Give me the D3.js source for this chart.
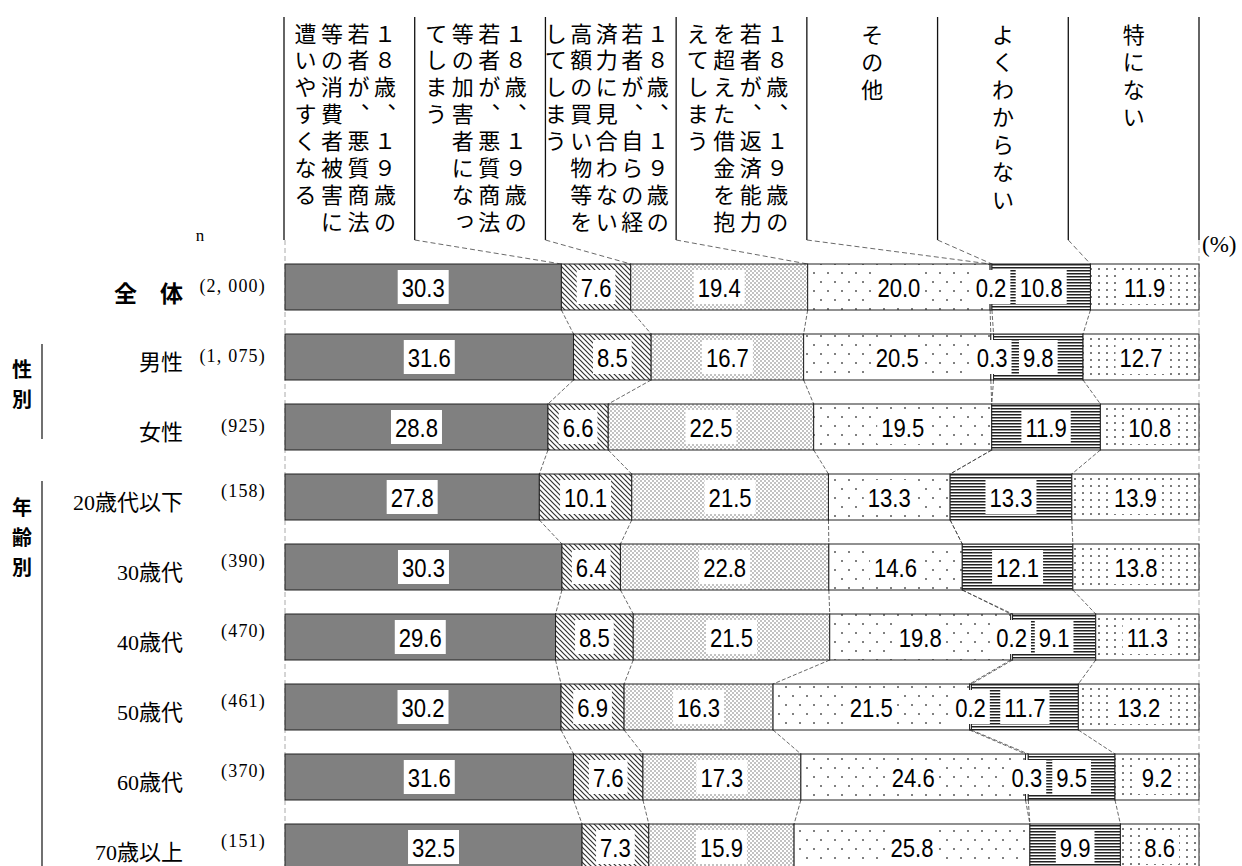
<!DOCTYPE html>
<html>
<head>
<meta charset="utf-8">
<script src="https://cdn.jsdelivr.net/npm/d3@7"></script>
<style>
  body { margin: 0; background: #fff; }
  svg { display: block; }
</style>
</head>
<body>
<div id="chart"></div>
<script>
const categories = [
  "１８歳、１９歳の若者が、悪質商法等の消費者被害に遭いやすくなる",
  "１８歳、１９歳の若者が、悪質商法等の加害者になってしまう",
  "１８歳、１９歳の若者が、自らの経済力に見合わない高額の買い物等をしてしまう",
  "１８歳、１９歳の若者が、返済能力を超えた借金を抱えてしまう",
  "その他",
  "よくわからない",
  "特にない"
];
const rows = ["全　体", "男性", "女性", "20歳代以下", "30歳代", "40歳代", "50歳代", "60歳代", "70歳以上"];
const nLabels = ["(2, 000)", "(1, 075)", "(925)", "(158)", "(390)", "(470)", "(461)", "(370)", "(151)"];

const s1 = [30.3, 31.6, 28.8, 27.8, 30.3, 29.6, 30.2, 31.6, 32.5];
const s2 = [7.6, 8.5, 6.6, 10.1, 6.4, 8.5, 6.9, 7.6, 7.3];
const s3 = [19.4, 16.7, 22.5, 21.5, 22.8, 21.5, 16.3, 17.3, 15.9];
const s4 = [20.0, 20.5, 19.5, 13.3, 14.6, 19.8, 21.5, 24.6, 25.8];
const s5 = [0.2, 0.3, 0, 0, 0, 0.2, 0.2, 0.3, 0];
const s6 = [10.8, 9.8, 11.9, 13.3, 12.1, 9.1, 11.7, 9.5, 9.9];
const s7 = [11.9, 12.7, 10.8, 13.9, 13.8, 11.3, 13.2, 9.2, 8.6];
const series = [s1, s2, s3, s4, s5, s6, s7];

const width = 1242, height = 866;
const svg = d3.select("#chart").append("svg")
  .attr("width", width).attr("height", height)
  .attr("viewBox", [0, 0, width, height]);

const jp = "'Noto Sans CJK JP', sans-serif";
const serif = "'Liberation Serif', 'Noto Sans CJK JP', serif";

// patterns
const defs = svg.append("defs");
function pat(id, w, h, draw) {
  const p = defs.append("pattern").attr("id", id)
    .attr("patternUnits", "userSpaceOnUse").attr("width", w).attr("height", h);
  p.append("rect").attr("width", w).attr("height", h).attr("fill", "#fff");
  draw(p);
}
pat("hatch", 5, 5, p => p.append("path")
  .attr("d", "M0,0L5,5M-1,4L1,6M4,-1L6,1")
  .attr("stroke", "#333").attr("stroke-width", 1.2));
pat("dense", 4, 4, p => {
  p.append("circle").attr("cx", 1).attr("cy", 1).attr("r", 0.75).attr("fill", "#666");
  p.append("circle").attr("cx", 3).attr("cy", 3).attr("r", 0.75).attr("fill", "#666");
});
pat("sparse", 14, 18, p => {
  p.append("circle").attr("cx", 2).attr("cy", 3).attr("r", 1).attr("fill", "#555");
  p.append("circle").attr("cx", 9).attr("cy", 12).attr("r", 1).attr("fill", "#555");
});
pat("hlines", 3, 3, p => p.append("rect")
  .attr("y", 0).attr("width", 3).attr("height", 1.5).attr("fill", "#222"));
pat("dots", 8, 7, p => p.append("circle")
  .attr("cx", 3).attr("cy", 3).attr("r", 0.95).attr("fill", "#444"));

const fills = ["#808080", "url(#hatch)", "url(#dense)", "url(#sparse)", "#fff", "url(#hlines)", "url(#dots)"];

// scales
const x0 = 285, x1 = 1199;
const y = d3.scaleBand().domain(rows).range([264, 870]).paddingInner(24 / 70);
const header = d3.scaleBand().domain(categories).range([284, 1199]);

const stacks = rows.map((r, i) => {
  const vals = series.map(s => s[i]);
  const total = d3.sum(vals);
  const x = d3.scaleLinear().domain([0, total]).range([x0, x1]);
  let c = 0;
  const cum = [0];
  vals.forEach(v => { c += v; cum.push(c); });
  return { row: r, vals, x, cum };
});

// header dividers
const divs = d3.range(8).map(k => k < 7 ? header(categories[k]) : header.range()[1]);
svg.append("g").selectAll("line").data(divs).join("line")
  .attr("x1", d => d).attr("x2", d => d)
  .attr("y1", 17).attr("y2", 240)
  .attr("stroke", "#111").attr("stroke-width", 1.3);

// header text
const htext = svg.append("g").attr("font-family", serif).attr("font-size", 22).attr("fill", "#000");
categories.forEach((cat, ci) => {
  const chunks = [];
  for (let i = 0; i < cat.length; i += 8) chunks.push(cat.slice(i, i + 8));
  const n = chunks.length;
  const pitchX = n === 5 ? 25.5 : 26.5;
  const pitchY = n > 1 ? 26.9 : 27.5;
  const cx = header(cat) + header.bandwidth() / 2 - (n > 1 ? 4 : 0);
  chunks.forEach((ch, j) => {
    const cxj = cx + ((n - 1) / 2 - j) * pitchX;
    Array.from(ch).forEach((c, k) => {
      let glyph = c, dx = 0, dy = 0;
      if (c === "、") glyph = "︑";
      if (c === "っ") { dx = 2; dy = -3; }
      htext.append("text")
        .attr("x", cxj + dx).attr("y", (n > 1 ? 34 : 35) + k * pitchY + dy)
        .attr("text-anchor", "middle").attr("dominant-baseline", "central")
        .text(glyph);
    });
  });
});

// connectors
const conn = svg.append("g").attr("fill", "none");
// outer vertical dashes
[x0, x1].forEach(xx => conn.append("line")
  .attr("x1", xx).attr("x2", xx).attr("y1", 240).attr("y2", height)
  .attr("stroke", "#aaa").attr("stroke-width", 1).attr("stroke-dasharray", "5,3"));
// header to first bar
d3.range(1, 7).forEach(k => conn.append("line")
  .attr("x1", divs[k]).attr("y1", 240)
  .attr("x2", stacks[0].x(stacks[0].cum[k])).attr("y2", y(rows[0]))
  .attr("stroke", "#444").attr("stroke-width", 0.8).attr("stroke-dasharray", "5,3"));
// between bars
stacks.slice(0, -1).forEach((st, i) => {
  const nx = stacks[i + 1];
  d3.range(1, 7).forEach(k => conn.append("line")
    .attr("x1", st.x(st.cum[k])).attr("y1", y(st.row) + y.bandwidth())
    .attr("x2", nx.x(nx.cum[k])).attr("y2", y(nx.row))
    .attr("stroke", "#444").attr("stroke-width", 0.8).attr("stroke-dasharray", "4,2"));
});

// bars
const bars = svg.append("g");
stacks.forEach(st => {
  const g = bars.append("g");
  st.vals.forEach((v, k) => {
    if (v <= 0) return;
    g.append("rect")
      .attr("x", st.x(st.cum[k])).attr("y", y(st.row))
      .attr("width", st.x(st.cum[k + 1]) - st.x(st.cum[k]))
      .attr("height", y.bandwidth())
      .attr("fill", fills[k]).attr("stroke", "#222").attr("stroke-width", 1);
  });
});

// value labels
const lab = svg.append("g");
stacks.forEach(st => {
  st.vals.forEach((v, k) => {
    if (v <= 0) return;
    const cx = (st.x(st.cum[k]) + st.x(st.cum[k + 1])) / 2;
    const cy = y(st.row) + y.bandwidth() / 2;
    const g = lab.append("g");
    const box = g.append("rect").attr("fill", "#fff");
    const t = g.append("text")
      .attr("font-family", "'Liberation Sans', Arial, sans-serif")
      .attr("font-size", 26).attr("text-anchor", "middle")
      .attr("dominant-baseline", "central")
      .attr("transform", `translate(${cx},${cy + 1}) scale(0.85,1)`)
      .text(v.toFixed(1));
    const w = t.node().getComputedTextLength() * 0.85 + 8;
    box.attr("x", cx - w / 2).attr("y", cy - 17).attr("width", w).attr("height", 34);
  });
});

// row labels
const rl = svg.append("g").attr("fill", "#000");
rows.forEach((r, i) => {
  const cy = y(r) + y.bandwidth() / 2;
  rl.append("text")
    .attr("x", 183).attr("y", cy + 5)
    .attr("text-anchor", "end").attr("dominant-baseline", "central")
    .attr("font-family", i === 0 ? jp : serif)
    .attr("font-weight", i === 0 ? 700 : 400)
    .attr("font-size", i === 0 ? 23 : 22)
    .text(r);
  rl.append("text")
    .attr("x", 266).attr("y", cy - (i >= 3 ? 6 : 1))
    .attr("text-anchor", "end").attr("dominant-baseline", "central")
    .attr("font-family", serif).attr("font-size", 18).attr("letter-spacing", 1.2)
    .text(nLabels[i]);
});

// group labels
const grp = svg.append("g").attr("font-family", jp).attr("font-weight", 700).attr("font-size", 20);
Array.from("性別").forEach((c, k) => grp.append("text")
  .attr("x", 22).attr("y", 368 + k * 30).attr("text-anchor", "middle")
  .attr("dominant-baseline", "central").text(c));
Array.from("年齢別").forEach((c, k) => grp.append("text")
  .attr("x", 22).attr("y", 506 + k * 30).attr("text-anchor", "middle")
  .attr("dominant-baseline", "central").text(c));
svg.append("line").attr("x1", 42).attr("x2", 42).attr("y1", 344).attr("y2", 439)
  .attr("stroke", "#111").attr("stroke-width", 1.2);
svg.append("line").attr("x1", 42).attr("x2", 42).attr("y1", 481).attr("y2", height)
  .attr("stroke", "#111").attr("stroke-width", 1.2);

// n and (%)
svg.append("text").attr("x", 200).attr("y", 241).attr("text-anchor", "middle")
  .attr("font-family", serif).attr("font-size", 17).text("n");
svg.append("text").attr("x", 1202).attr("y", 244).attr("dominant-baseline", "central")
  .attr("font-family", serif).attr("font-size", 23).text("(%)");
</script>
</body>
</html>
